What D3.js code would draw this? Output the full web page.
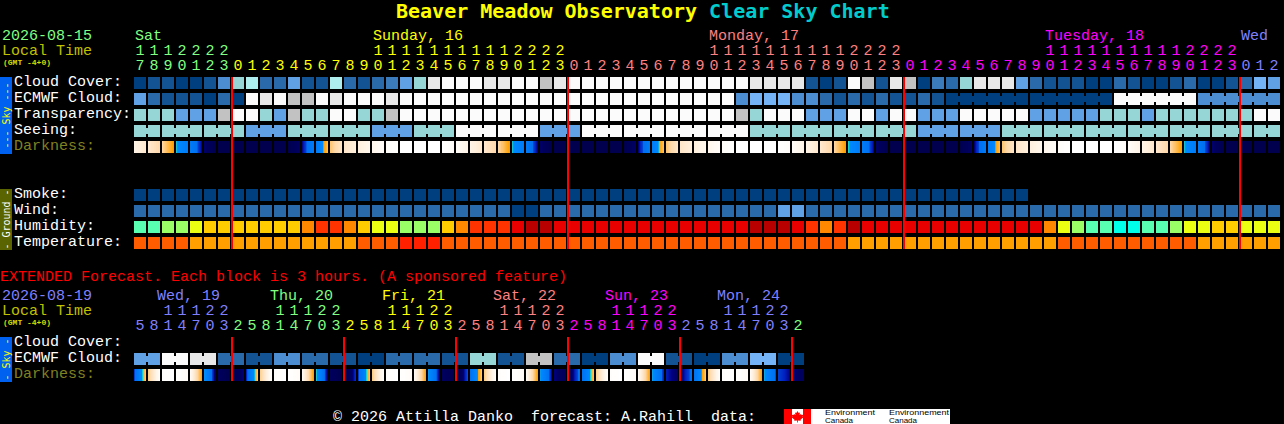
<!DOCTYPE html>
<html><head><meta charset="utf-8">
<style>
html,body{margin:0;padding:0;background:#000;overflow:hidden}
svg{display:block}
text{font-family:"Liberation Mono",monospace;font-size:15px;white-space:pre}
</style>
<script src="https://cdn.jsdelivr.net/npm/d3@7/dist/d3.min.js"></script>
</head><body><svg id="c" width="1284" height="424"></svg>
<script>
// ---------- data ----------
const hours=[17,18,19,20,21,22,23,
 0,1,2,3,4,5,6,7,8,9,10,11,12,13,14,15,16,17,18,19,20,21,22,23,
 0,1,2,3,4,5,6,7,8,9,10,11,12,13,14,15,16,17,18,19,20,21,22,23,
 0,1,2,3,4,5,6,7,8,9,10,11,12,13,14,15,16,17,18,19,20,21,22,23,
 0,1,2];
const dayLabels=["Sat","Sunday, 16","Monday, 17","Tuesday, 18","Wed"];
const dayLabelCols=[0,17,41,65,79];
const dayStartCols=[0,7,31,55,79];
const dayColors=["#80ff80","#ffff00","#ff8080","#ff00ff","#8080ff"];

// sky levels are indices into skyColors (0 = clear / best ... 11 = overcast / worst)
const cloudCover=[0,1,1,0,0,1,4,7,8,2,2,5,1,1,8,2,1,2,3,5,7,10,11,11,11,10,10,11,11,9,10,
 11,11,11,11,11,11,11,11,11,11,11,11,11,10,10,10,10,1,0,1,11,9,1,10,9,0,3,2,7,10,10,10,5,2,1,1,1,0,0,2,1,0,0,1,2,0,0,1,2,6,5];
const ecmwfCloud=[5,2,1,1,1,0,2,0,11,10,11,9,9,11,10,11,11,11,10,11,11,11,
 11,11,11,11,11,11,11,11,11,11,11,11,11,11,11,11,11,11,11,11,11,4,6,6,6,4,4,2,1,2,
 1,2,1,1,2,1,0,0,0,0,0,0,0,0,0,0,0,0,11,11,11,11,11,11,4,4,4,4,4,4];
const transparency=[7,7,7,5,5,5,9,11,11,7,5,9,7,7,11,11,7,7,9,11,11,11,
 11,11,11,11,11,11,11,11,11,11,11,11,11,11,11,11,11,11,11,11,11,9,7,11,11,11,5,5,5,11,
 11,5,11,11,5,5,5,11,11,11,11,11,5,5,5,5,5,7,7,7,5,7,7,7,7,7,7,7,11,11];
const seeing=[7,7,7,7,7,7,7,7,5,5,5,7,7,7,7,7,7,5,5,5,7,7,7,11,11,11,11,11,11,5,5,5,
 11,11,11,11,11,11,11,11,11,11,11,11,7,7,7,7,7,7,7,7,7,7,7,7,5,5,5,5,5,5,
 7,7,7,7,7,7,7,7,7,7,7,7,7,7,7,7,7,7,7,7];
const smoke=[0,0,0,0,0,0,0,0,0,0,0,0,0,0,0,0,0,0,0,0,0,0,0,0,0,0,0,0,0,0,0,0,
 0,0,0,0,0,0,0,0,0,0,0,0,0,0,0,0,0,0,0,0,0,0,0,0,0,0,0,0,0,0,0,0];
const wind=[2,2,2,2,2,2,2,2,2,2,2,2,2,2,2,2,2,2,2,2,2,2,2,2,2,2,2,0,0,2,2,2,2,2,2,2,2,2,2,2,2,
 2,2,2,2,2,5,5,2,2,2,2,2,2,2,2,2,2,2,2,2,2,2,2,2,2,2,2,2,2,2,2,2,2,2,2,2,2,2,2,2,2];
const humidity=[1,1,2,2,3,4,4,4,4,4,4,4,5,6,6,5,4,3,3,2,2,2,4,5,6,6,6,7,8,8,7,
 7,7,7,7,7,7,7,7,7,7,7,7,7,8,8,8,7,6,5,6,8,7,7,7,7,7,7,7,7,7,7,7,7,7,5,3,2,1,1,0,0,1,1,2,3,3,4,4,3,3,3];
const temperature=[1,1,1,1,0,0,0,0,0,0,0,0,0,0,0,0,1,1,1,2,2,2,1,1,1,1,1,1,1,1,1,1,1,1,1,1,1,1,1,1,1,
 1,1,1,1,1,1,1,1,1,1,0,0,0,0,0,0,0,0,0,0,0,0,0,0,0,1,1,1,1,1,1,1,1,1,1,0,0,0,0,0,0];
// darkness at hour boundaries (negative: sun up, positive: sky darkening)
const darkness=[-3.4,-2.6,-1.6,0,1.7,4,5.6,5.7,5.7,5.7,5.7,5.6,4,1.7,-1,-2.4,-3.1,-3.7,-4.2,-5,-5,-5,-5,-4.2,
 -3.4,-2.6,-1.6,0,1.7,4,5.6,5.7,5.7,5.7,5.7,5.6,4,1.7,-1,-2.4,-3.1,-3.7,-4.2,-5,-5,-5,-5,-4.2,
 -3.4,-2.6,-1.6,0,1.7,4,5.6,5.7,5.7,5.7,5.7,5.6,4,1.7,-1,-2.4,-3.1,-3.7,-4.2,-5,-5,-5,-5,-4.2,
 -3.4,-2.6,-1.6,0,1.7,4,5.6,5.7,5.7,5.7,5.7];

const extHours=[5,8,11,14,17,20,23,2,5,8,11,14,17,20,23,2,5,8,11,14,17,20,23,2,5,8,11,14,17,20,23,2,
 5,8,11,14,17,20,23,2,5,8,11,14,17,20,23,2];
const extDayLabels=["Wed, 19","Thu, 20","Fri, 21","Sat, 22","Sun, 23","Mon, 24"];
const extDayX=[157,270,382,493,605,717];
const extDayStartCols=[0,7,15,23,31,39,47];
const extDayColors=["#8080ff","#80ff80","#ffff00","#ff8080","#ff00ff","#8080ff","#80ff80"];
const extEcmwf=[5,5,11,11,10,10,2,2,1,1,4,4,2,2,1,1,0,0,2,2,2,2,1,1,7,7,1,1,9,9,2,2,0,0,4,4,11,11,1,1,0,0,4,4,6,6,0,0];
const extDarkness=[3.5,-1.2,-4.5,-5,-4,0,4.5,5.6, 3.8,-1.2,-4.5,-5,-4,0,4.4,5.6, 3.4,-1.2,-4.5,-5,-4,0,4.2,5.4,
 3,-1.2,-4.5,-5,-4,0,3.9,4.8, 2.8,-1.2,-4.5,-5,-4,0,3.6,4.2, 2.8,-1.2,-4.5,-5,-4,0,3.2,3.9,4.4];

const rowLabels=["Cloud Cover:","ECMWF Cloud:","Transparency:","Seeing:","Darkness:"];
const groundLabels=["Smoke:","Wind:","Humidity:","Temperature:"];
const extRowLabels=["Cloud Cover:","ECMWF Cloud:","Darkness:"];

const skyColors=["#003f7f","#135393","#2a6aaa","#3b7bbb","#4c8cd0","#60a0e4","#74b4f6","#96d6d6","#aeeeee","#c2c2c2","#e8e8e8","#fbfbfb"];
const humidColors=["#00ffe8","#58ffb0","#9aff66","#eaff11","#ffcc00","#ff8800","#ff3300","#e80000","#b80000"];
const tempColors=["#ffa000","#ff5c00","#ff2000"];

// ---------- scales ----------
const CW=14, BW=12, BH=12, X0=134;
const x=d3.scaleLinear().domain([0,1]).range([X0,X0+CW]);
const y=d3.scaleLinear().domain([0,1]).range([77,93]);   // sky rows
const yG=d3.scaleLinear().domain([0,1]).range([189,205]); // ground rows
const yE=d3.scaleLinear().domain([0,1]).range([337,353]); // extended rows
const sky=d3.scaleOrdinal().domain(d3.range(skyColors.length)).range(skyColors);
const humid=d3.scaleOrdinal().domain(d3.range(humidColors.length)).range(humidColors);
const temp=d3.scaleOrdinal().domain(d3.range(tempColors.length)).range(tempColors);
const dark=d3.scaleLinear()
 .domain([-5,-4.2,-3.4,-2.6,-1.6,-0.05,0,0.3,3,3.2,3.6,3.9,4.2,5.6])
 .range(["#ffffff","#fffcf8","#fff4e6","#ffe9cf","#ffd8a8","#ffa000","#20e0c0","#0088ff","#0070f0","#0040d0","#0020c0","#000080","#000060","#00004f"])
 .clamp(true);

const svg=d3.select("#c");
const defs=svg.append("defs");

function colorOf(i,arr,start){ let k=0; start.forEach((s,j)=>{if(i>=s)k=j;}); return arr[k]; }

function blockRow(values,top,scale,bridged){
  const g=svg.append("g");
  g.selectAll("rect.b").data(values).join("rect").attr("class","b")
   .attr("x",(d,i)=>x(i)).attr("y",top).attr("width",BW).attr("height",BH)
   .attr("fill",d=>scale(d)).attr("shape-rendering","crispEdges");
  if(bridged){
    g.selectAll("rect.n").data(values.map((v,i)=>({v,i})).filter(d=>d.i<values.length-1&&bridged(d.i)))
     .join("rect").attr("class","n")
     .attr("x",d=>x(d.i)+BW).attr("y",top+3).attr("width",CW-BW).attr("height",BH-6)
     .attr("fill",d=>scale(d.v)).attr("shape-rendering","crispEdges");
  }
}
let gid=0;
function darkRow(values,top){
  const g=svg.append("g");
  const cells=d3.pairs(values);
  cells.forEach((c,i)=>{
    const id="dk"+(gid++);
    const lg=defs.append("linearGradient").attr("id",id);
    d3.range(0,24).forEach(k=>{
      const a=k/24, b=(k+1)/24;
      const v=c[0]+(c[1]-c[0])*((a+b)/2);
      lg.append("stop").attr("offset",a).attr("stop-color",dark(v));
      lg.append("stop").attr("offset",b).attr("stop-color",dark(v));
    });
    g.append("rect").attr("x",x(i)).attr("y",top).attr("width",BW).attr("height",BH)
     .attr("fill","url(#"+id+")").attr("shape-rendering","crispEdges");
  });
}
function txt(t,px,py,fill,extra){
  const s=svg.append("text").attr("x",px).attr("y",py).attr("fill",fill).text(t);
  if(extra) extra(s);
  return s;
}
function sideBar(y0,h,fill,label,color){
  svg.append("rect").attr("x",0).attr("y",y0).attr("width",12).attr("height",h).attr("fill",fill);
  svg.append("text").attr("transform",`translate(9.5,${y0+h/2}) rotate(-90)`)
    .attr("text-anchor","middle").attr("fill",color).style("font-size","10px")
    .style("font-family","'DejaVu Sans Mono'").text(label);
}
function midnightLines(cols,y0,y1){
  svg.append("g").selectAll("rect").data(cols).join("rect")
   .attr("x",d=>x(d)-1).attr("y",y0).attr("width",2).attr("height",y1-y0).attr("fill","#ff0000");
}
const gmtStyle=s=>s.style("font-size","7px").style("font-weight","bold").attr("textLength",48).attr("lengthAdjust","spacingAndGlyphs");

// ---------- title ----------
const title=svg.append("text").attr("x",396).attr("y",18)
  .style("font-family","'DejaVu Sans Mono'").style("font-size","20px").style("font-weight","bold");
title.append("tspan").attr("fill","#ffff00").text("Beaver Meadow Observatory ");
title.append("tspan").attr("fill","#00cccc").text("Clear Sky Chart");

// ---------- main header ----------
txt("2026-08-15",2,40,"#80ff80");
txt("Local Time",2,54.5,"#c0c000");
txt("(GMT -4+0)",3,64.5,"#d8d800",gmtStyle);
dayLabels.forEach((d,i)=>txt(d,x(dayLabelCols[i])+1,40,dayColors[i]));
svg.append("g").selectAll("text").data(hours).join("text")
  .attr("x",(d,i)=>x(i)+6).attr("y",70).attr("text-anchor","middle")
  .attr("fill",(d,i)=>colorOf(i,dayColors,dayStartCols)).text(d=>d%10);
svg.append("g").selectAll("text").data(hours).join("text")
  .attr("x",(d,i)=>x(i)+6).attr("y",55).attr("text-anchor","middle")
  .attr("fill",(d,i)=>colorOf(i,dayColors,dayStartCols)).text(d=>d>=10?Math.floor(d/10):"");

// ---------- main rows ----------
sideBar(77,77,"#0060f0","--- Sky ---","#ffff00");
sideBar(189,61,"#5a6400","- Ground -","#ffffff");
rowLabels.forEach((t,i)=>txt(t,14,y(i)+8.5,i==4?"#808020":"#ffffff"));
groundLabels.forEach((t,i)=>txt(t,14,yG(i)+8.5,"#ffffff"));
blockRow(cloudCover,y(0),sky);
blockRow(ecmwfCloud,y(1),sky,i=>i>=58&&(i+1-58)%6!==0);
blockRow(transparency,y(2),sky);
blockRow(seeing,y(3),sky,i=>(i+1-2)%3!==0);
darkRow(darkness,y(4));
blockRow(smoke,yG(0),sky);
blockRow(wind,yG(1),sky);
blockRow(humidity,yG(2),humid);
blockRow(temperature,yG(3),temp);
midnightLines([7,31,55,79],77,249);

// ---------- extended ----------
txt("EXTENDED Forecast. Each block is 3 hours. (A sponsored feature)",0,281,"#ff0000");
txt("2026-08-19",2,300,"#8080ff");
txt("Local Time",2,314.5,"#c0c000");
txt("(GMT -4+0)",3,324.5,"#d8d800",gmtStyle);
extDayLabels.forEach((d,i)=>txt(d,extDayX[i],300,extDayColors[i]));
svg.append("g").selectAll("text").data(extHours).join("text")
  .attr("x",(d,i)=>x(i)+6).attr("y",330).attr("text-anchor","middle")
  .attr("fill",(d,i)=>colorOf(i,extDayColors,extDayStartCols)).text(d=>d%10);
svg.append("g").selectAll("text").data(extHours).join("text")
  .attr("x",(d,i)=>x(i)+6).attr("y",315).attr("text-anchor","middle")
  .attr("fill",(d,i)=>colorOf(i,extDayColors,extDayStartCols)).text(d=>d>=10?Math.floor(d/10):"");
sideBar(337,45,"#0060f0","- Sky -","#ffff00");
extRowLabels.forEach((t,i)=>txt(t,14,yE(i)+8.5,i==2?"#808020":"#ffffff"));
blockRow(extEcmwf,yE(1),sky,i=>(i+1)%2!==0);
darkRow(extDarkness,yE(2));
midnightLines([7,15,23,31,39,47],337,381);

// ---------- footer ----------
txt("© 2026 Attilla Danko  forecast: A.Rahill  data:",333,420.5,"#ffffff");
svg.append("rect").attr("x",784).attr("y",409).attr("width",166).attr("height",15).attr("fill","#ffffff");
svg.append("rect").attr("x",784).attr("y",409).attr("width",8).attr("height",15).attr("fill","#ff0000");
svg.append("rect").attr("x",803).attr("y",409).attr("width",8).attr("height",15).attr("fill","#ff0000");
svg.append("path").attr("fill","#ff0000")
  .attr("d","M797.5 411l1.2 2 1.3-.6-.5 2.6 1.5-1 .5 1 1.8-.2-.6 2 .8.5-3 2.4.3 1-2.9-.3v2h-.8v-2l-2.9.3.3-1-3-2.4.8-.5-.6-2 1.8.2.5-1 1.5 1-.5-2.6 1.3.6z");
[["Environment",825,414.8,50],["Canada",825,422.5,28],["Environnement",889,414.8,60],["Canada",889,422.5,28]].forEach(d=>{
  svg.append("text").attr("x",d[1]).attr("y",d[2]).attr("fill","#000")
   .style("font-family","'Liberation Sans'").style("font-size","7px")
   .attr("textLength",d[3]).attr("lengthAdjust","spacingAndGlyphs").text(d[0]);
});
</script></body></html>
